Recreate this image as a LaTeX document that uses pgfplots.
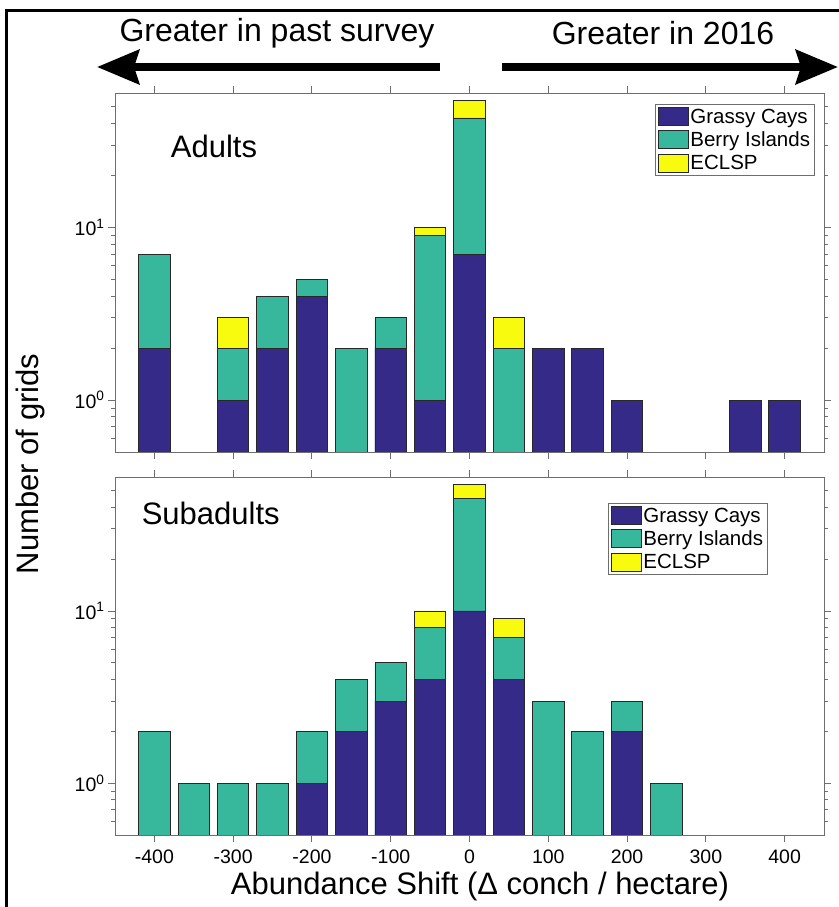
\documentclass[border=0pt]{standalone}
\usepackage{pgfplots}
\pgfplotsset{compat=1.18}
\usepackage{fontspec}
\setmainfont{Liberation Sans}
\usetikzlibrary{arrows.meta}
\definecolor{gc}{RGB}{53,42,135}
\definecolor{bi}{RGB}{55,184,157}
\definecolor{ec}{RGB}{249,251,14}
\definecolor{edge}{RGB}{40,40,40}
\definecolor{axg}{RGB}{110,110,110}
\begin{document}
\begin{tikzpicture}[x=1pt,y=1pt]
\useasboundingbox (0,0) rectangle (838,-907);
% frame
\draw[black, line width=3pt] (6.5,-907) -- (6.5,-10.5) -- (840,-10.5);
% header arrows and texts
\node[font=\fontsize{32}{36}\selectfont] at (277,-33) {Greater in past survey};
\node[font=\fontsize{32}{36}\selectfont] at (663,-33) {Greater in 2016};
\draw[line width=8pt, -{Stealth[length=42pt,width=34pt,inset=5pt]}] (440,-67) -- (97,-67);
\draw[line width=8pt, -{Stealth[length=42pt,width=34pt,inset=5pt]}] (502,-67) -- (838,-67);
% y label
\node[rotate=90, font=\fontsize{31}{35}\selectfont] at (30,-464) {Number of grids};
% x label
\node[font=\fontsize{31}{35}\selectfont] at (480,-886) {Abundance Shift (Δ conch / hectare)};

% ---------- Adults ----------
\begin{axis}[at={(115pt,-452pt)}, anchor=south west,
    scale only axis, width=709pt, height=359pt,
    ymode=log, log origin y=infty,
    xmin=-450, xmax=450, ymin=0.5, ymax=60,
    xtick={-400,-300,-200,-100,0,100,200,300,400}, xticklabels={},
    ytick={1,10}, yticklabels={10\textsuperscript{0},10\textsuperscript{1}},
    minor ytick={0.6,0.7,0.8,0.9,2,3,4,5,6,7,8,9,20,30,40,50},
    tick align=outside, major tick length=7pt, minor tick length=4pt,
    axis line style={axg, line width=0.9pt},
    every tick/.style={axg, line width=0.9pt},
    every minor tick/.style={axg, line width=0.8pt},
    tick label style={font=\fontsize{19.5}{22}\selectfont},
    axis on top,
    ybar, bar width=40,
    legend style={font=\fontsize{20.5}{23}\selectfont, draw=axg, line width=0.9pt,
      inner sep=2.5pt, row sep=3pt, cells={anchor=west},
      at={(1,1)}, anchor=north east, xshift=-9pt, yshift=-11pt},
    legend image code/.code={\draw[#1, line width=0.9pt] (0pt,-9pt) rectangle (30pt,9pt);},
    reverse legend]
\addplot[fill=ec, draw=edge, line width=0.9pt, bar shift=0pt] coordinates {(-300,3) (-50,10) (0,54) (50,3)};
\addplot[fill=bi, draw=edge, line width=0.9pt, bar shift=0pt] coordinates {(-400,7) (-300,2) (-250,4) (-200,5) (-150,2) (-100,3) (-50,9) (0,43) (50,2)};
\addplot[fill=gc, draw=edge, line width=0.9pt, bar shift=0pt] coordinates {(-400,2) (-300,1) (-250,2) (-200,4) (-100,2) (-50,1) (0,7) (100,2) (150,2) (200,1) (350,1) (400,1)};
\legend{ECLSP, Berry Islands, Grassy Cays}
\node[font=\fontsize{31}{35}\selectfont] at (rel axis cs:0.1396,0.852) {Adults};
\end{axis}

% ---------- Subadults ----------
\begin{axis}[at={(115pt,-835pt)}, anchor=south west,
    scale only axis, width=709pt, height=358pt,
    ymode=log, log origin y=infty,
    xmin=-450, xmax=450, ymin=0.5, ymax=60,
    xtick={-400,-300,-200,-100,0,100,200,300,400},
    xticklabels={-400,-300,-200,-100,0,100,200,300,400},
    xticklabel style={yshift=-4pt},
    ytick={1,10}, yticklabels={10\textsuperscript{0},10\textsuperscript{1}},
    minor ytick={0.6,0.7,0.8,0.9,2,3,4,5,6,7,8,9,20,30,40,50},
    tick align=outside, major tick length=7pt, minor tick length=4pt,
    axis line style={axg, line width=0.9pt},
    every tick/.style={axg, line width=0.9pt},
    every minor tick/.style={axg, line width=0.8pt},
    tick label style={font=\fontsize{19.5}{22}\selectfont},
    axis on top,
    ybar, bar width=40,
    legend style={font=\fontsize{20.5}{23}\selectfont, draw=axg, line width=0.9pt,
      inner sep=2.5pt, row sep=3pt, cells={anchor=west},
      at={(1,1)}, anchor=north east, xshift=-56pt, yshift=-26pt},
    legend image code/.code={\draw[#1, line width=0.9pt] (0pt,-9pt) rectangle (30pt,9pt);},
    reverse legend]
\addplot[fill=ec, draw=edge, line width=0.9pt, bar shift=0pt] coordinates {(-50,10) (0,54) (50,9)};
\addplot[fill=bi, draw=edge, line width=0.9pt, bar shift=0pt] coordinates {(-400,2) (-350,1) (-300,1) (-250,1) (-200,2) (-150,4) (-100,5) (-50,8) (0,45) (50,7) (100,3) (150,2) (200,3) (250,1)};
\addplot[fill=gc, draw=edge, line width=0.9pt, bar shift=0pt] coordinates {(-200,1) (-150,2) (-100,3) (-50,4) (0,10) (50,4) (200,2)};
\legend{ECLSP, Berry Islands, Grassy Cays}
\node[font=\fontsize{31}{35}\selectfont] at (rel axis cs:0.135,0.897) {Subadults};
\end{axis}
\end{tikzpicture}
\end{document}
